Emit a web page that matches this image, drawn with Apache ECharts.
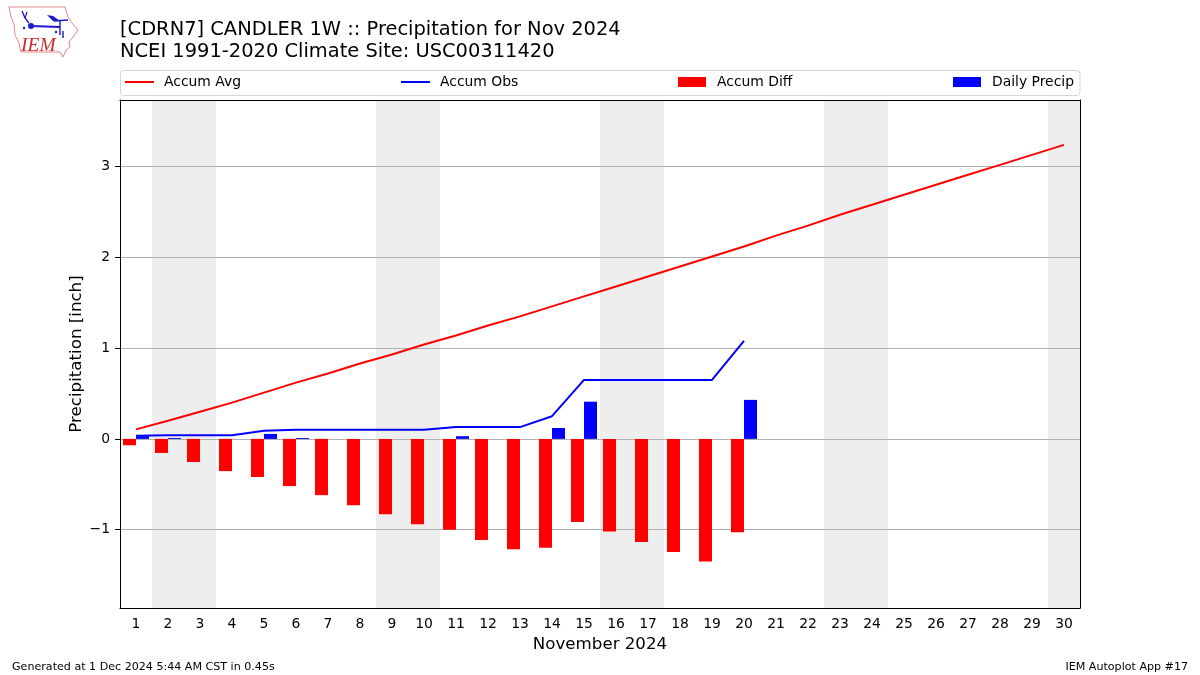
<!DOCTYPE html>
<html><head><meta charset="utf-8">
<style>html,body{margin:0;padding:0;background:#fff}#c{width:1200px;height:675px}</style>
<script src="https://cdn.jsdelivr.net/npm/echarts@6/dist/echarts.min.js"></script>
</head><body><div id="c"></div>
<script>
const days = ['1','2','3','4','5','6','7','8','9','10','11','12','13','14','15','16','17','18','19','20','21','22','23','24','25','26','27','28','29','30'];
const accumAvg = [0.105,0.20,0.30,0.40,0.51,0.62,0.72,0.83,0.93,1.04,1.14,1.25,1.35,1.46,1.57,1.68,1.79,1.90,2.01,2.12,2.24,2.35,2.47,2.58,2.69,2.80,2.91,3.02,3.13,3.24];
const accumObs = [0.035,0.04,0.04,0.04,0.09,0.10,0.10,0.10,0.10,0.10,0.13,0.13,0.13,0.25,0.65,0.65,0.65,0.65,0.65,1.08];
const accumDiff = [-0.07,-0.155,-0.255,-0.355,-0.42,-0.52,-0.62,-0.73,-0.83,-0.94,-1.00,-1.115,-1.215,-1.20,-0.915,-1.02,-1.135,-1.245,-1.35,-1.03];
const dailyPrecip = [0.03,0.01,0,0,0.055,0.01,0,0,0,0,0.03,0,0,0.12,0.41,0,0,0,0,0.43];
const weekendDays = ['2','3','9','10','16','17','23','24','30'];
const titleLine1 = '[CDRN7] CANDLER 1W :: Precipitation for Nov 2024';
const titleLine2 = 'NCEI 1991-2020 Climate Site: USC00311420';
const footerLeft = 'Generated at 1 Dec 2024 5:44 AM CST in 0.45s';
const footerRight = 'IEM Autoplot App #17';
const FONT = '"DejaVu Sans"';
const weekendFlags = days.map(d => weekendDays.includes(d) ? 1 : 0);

const chart = echarts.init(document.getElementById('c'), null, {renderer:'canvas'});
const legendBase = (pad) => ({textStyle:{fontFamily:FONT,fontSize:13.9,color:'#000',padding:[0,0,0,pad]}, itemGap:0, padding:0, selectedMode:false, top:75, icon:'rect'});
const blue = '#1a1acc';
chart.setOption({
  animation:false,
  backgroundColor:'#fff',
  textStyle:{fontFamily:FONT},
  grid:{left:120,right:120,top:100,bottom:67,show:false},
  legend:[
    Object.assign(legendBase(5),{data:['Accum Avg'],left:125,itemWidth:29,itemHeight:2}),
    Object.assign(legendBase(5),{data:['Accum Obs'],left:401,itemWidth:29,itemHeight:2}),
    Object.assign(legendBase(6),{data:['Accum Diff'],left:678,itemWidth:28,itemHeight:10}),
    Object.assign(legendBase(6),{data:['Daily Precip'],left:953,itemWidth:28,itemHeight:10})
  ],
  xAxis:[
    {type:'category',data:days,position:'bottom',z:5,
     name:'November 2024',nameLocation:'middle',nameGap:28,nameMoveOverlap:false,nameTextStyle:{fontFamily:FONT,fontSize:16.67,color:'#000'},
     axisLine:{onZero:false,lineStyle:{color:'#000',width:1}},
     axisTick:{alignWithLabel:true,length:5,lineStyle:{color:'#000',width:1}},
     axisLabel:{interval:0,margin:9,fontFamily:FONT,fontSize:13.9,color:'#000'},splitLine:{show:false}},
    {type:'category',data:days,position:'top',z:5,
     axisLine:{onZero:false,lineStyle:{color:'#000',width:1}},axisTick:{show:false},axisLabel:{show:false},splitLine:{show:false}}
  ],
  yAxis:[
    {type:'value',min:-1.8634,max:3.7344,splitNumber:5,position:'left',z:1,
     name:'Precipitation [inch]',nameLocation:'middle',nameGap:35,nameMoveOverlap:false,nameRotate:90,nameTextStyle:{fontFamily:FONT,fontSize:16.67,color:'#000'},
     axisLine:{show:true,lineStyle:{color:'#000',width:1}},
     axisTick:{show:true,length:5,lineStyle:{color:'#000',width:1}},
     axisLabel:{showMinLabel:false,showMaxLabel:false,margin:10,padding:[2,0,0,0],fontFamily:FONT,fontSize:13.9,color:'#000',
       formatter:v=>String(v).replace('-','\u2212')},
     splitLine:{show:true,lineStyle:{color:'#b0b0b0',width:1}}},
    {type:'value',min:0,max:1,position:'right',z:5,
     axisLine:{show:true,lineStyle:{color:'#000',width:1}},axisTick:{show:false},axisLabel:{show:false},splitLine:{show:false}}
  ],
  series:[
    {name:'Weekend',type:'bar',xAxisIndex:1,yAxisIndex:1,data:weekendFlags,barWidth:'100%',z:0,silent:true,
     itemStyle:{color:'#eeeeee'}},
    {name:'Accum Diff',type:'bar',data:accumDiff,barWidth:13,barGap:'0%',z:2,itemStyle:{color:'#ff0000'}},
    {name:'Daily Precip',type:'bar',data:dailyPrecip,barWidth:13,barGap:'0%',z:2,itemStyle:{color:'#0000ff'}},
    {name:'Accum Avg',type:'line',data:accumAvg,symbol:'none',z:3,lineStyle:{color:'#ff0000',width:2},itemStyle:{color:'#ff0000'}},
    {name:'Accum Obs',type:'line',data:accumObs,symbol:'none',z:3,lineStyle:{color:'#0000ff',width:2},itemStyle:{color:'#0000ff'}}
  ],
  graphic:[
    {type:'rect',z:-1,shape:{x:120.5,y:70.5,width:959.5,height:25,r:3},style:{fill:'#fff',stroke:'#d5d5d5',lineWidth:1}},
    {type:'text',left:120,top:20,style:{text:titleLine1,font:'19.45px '+FONT,fill:'#000'}},
    {type:'text',left:120,top:42,style:{text:titleLine2,font:'19.45px '+FONT,fill:'#000'}},
    {type:'text',left:12,top:662,style:{text:footerLeft,font:'11.1px '+FONT,fill:'#000'}},
    {type:'text',right:12,top:662,style:{text:footerRight,font:'11.1px '+FONT,fill:'#000'}},
    {type:'polyline',shape:{points:[[9,7],[65,7],[68,17],[72,23],[78,30],[73,37],[69,42],[70,47],[66,50],[63,57],[60,52],[21,52],[19,43],[15,35],[14,24],[11,17],[9,7]]},style:{fill:'#fff',stroke:'#e08a8a',lineWidth:1}},
    {type:'polyline',shape:{points:[[22,11],[25,18],[29,23]]},style:{fill:'none',stroke:blue,lineWidth:1.4}},
    {type:'polyline',shape:{points:[[25,18],[27,12]]},style:{fill:'none',stroke:blue,lineWidth:1.2}},
    {type:'polyline',shape:{points:[[31,26],[60,27]]},style:{fill:'none',stroke:blue,lineWidth:2}},
    {type:'polyline',shape:{points:[[54,21],[68,20]]},style:{fill:'none',stroke:blue,lineWidth:1.4}},
    {type:'polyline',shape:{points:[[60,21],[60,35]]},style:{fill:'none',stroke:blue,lineWidth:1.4}},
    {type:'polyline',shape:{points:[[63,31],[63,38]]},style:{fill:'none',stroke:blue,lineWidth:1.4}},
    {type:'polygon',shape:{points:[[47,15],[53,16],[60,21],[53,21]]},style:{fill:blue}},
    {type:'circle',shape:{cx:31,cy:26,r:3},style:{fill:blue}},
    {type:'circle',shape:{cx:24,cy:28,r:1.2},style:{fill:blue}},
    {type:'circle',shape:{cx:56,cy:32,r:1.2},style:{fill:blue}},
    {type:'text',left:21,top:36,style:{text:'IEM',font:'italic 19.5px "Liberation Serif"',fill:'#cc2a2a'}}
  ]
});
</script></body></html>
